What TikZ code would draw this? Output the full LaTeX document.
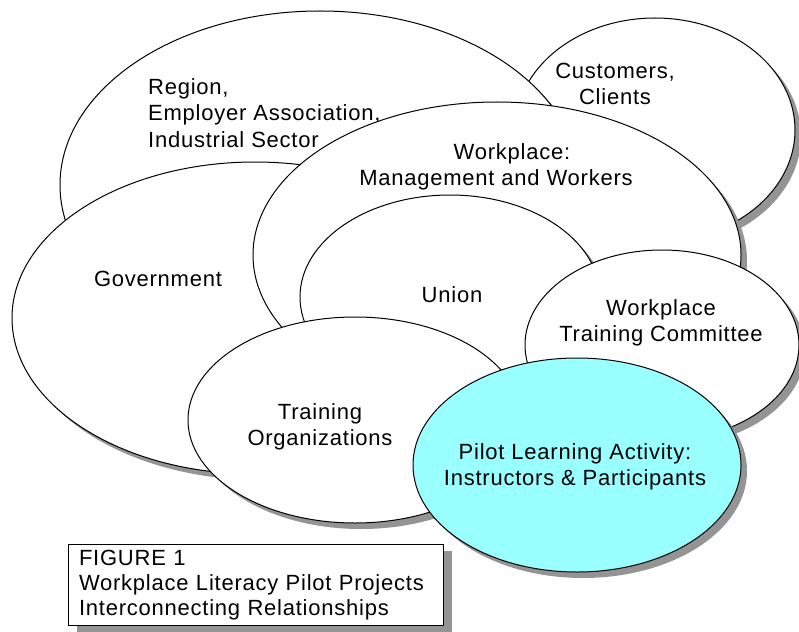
\documentclass[tikz,border=0pt]{standalone}
\usepackage{fontspec}
\setmainfont{Liberation Sans}[LetterSpace=3.5]
\usepackage{tikz}
\usetikzlibrary{shapes.geometric,shadows}
\definecolor{pilotcyan}{RGB}{153,255,255}

\begin{document}
\begin{tikzpicture}[x=1pt,y=-1pt,every node/.style={align=center,font=\fontsize{22}{26.5}\selectfont},
    blob/.style={shape=ellipse,draw,fill=white,line width=1pt,inner sep=0pt,
        drop shadow={shadow xshift=6pt,shadow yshift=-6pt,fill=black!42,opacity=1}},
    lbl/.style={inner sep=0pt}]
    \useasboundingbox (0,0) rectangle (799,631);
    \node[blob,minimum width=280,minimum height=224] (cust) at (655,130) {};
    \node[lbl] (custtext) at (615,84) {Customers,\\Clients};
    \node[blob,minimum width=520,minimum height=348] (region) at (320,185) {};
    \node[lbl,anchor=west,align=left] (regiontext) at (148,113) {Region,\\Employer Association,\\Industrial Sector};
    \node[blob,minimum width=486,minimum height=312] (govt) at (255,318) {};
    \node[lbl] (govttext) at (158,279) {Government};
    \node[blob,minimum width=488,minimum height=306] (wplace) at (497,255) {};
    \node[lbl] (wplacetext) at (496,167) {\hspace*{32pt}Workplace:\\Management and Workers};
    \node[blob,minimum width=300,minimum height=204] (union) at (450,297) {};
    \node[lbl] (uniontext) at (452,295) {Union};
    \node[blob,minimum width=274,minimum height=190] (wtc) at (662,345) {};
    \node[lbl] (wtctext) at (661,323) {Workplace\\Training Committee};
    \node[blob,minimum width=334,minimum height=206] (train) at (355,420) {};
    \node[lbl] (traintext) at (320,427) {Training\\Organizations};
    \node[blob,fill=pilotcyan,minimum width=328,minimum height=214] (pilot) at (577,465) {};
    \node[lbl] (pilottext) at (575,467) {Pilot Learning Activity:\\Instructors \& Participants};
    % caption box
    \node[draw,fill=white,line width=1pt,anchor=north west,minimum width=375,minimum height=81,
        text width=354,align=left,inner xsep=10pt,inner ysep=0pt,
        font=\fontsize{22}{25}\selectfont,
        drop shadow={shadow xshift=8pt,shadow yshift=-6pt,fill=black!42,opacity=1}] (caption) at (68,544)
        {FIGURE 1\\Workplace Literacy Pilot Projects\\Interconnecting Relationships};
\end{tikzpicture}
\end{document}
